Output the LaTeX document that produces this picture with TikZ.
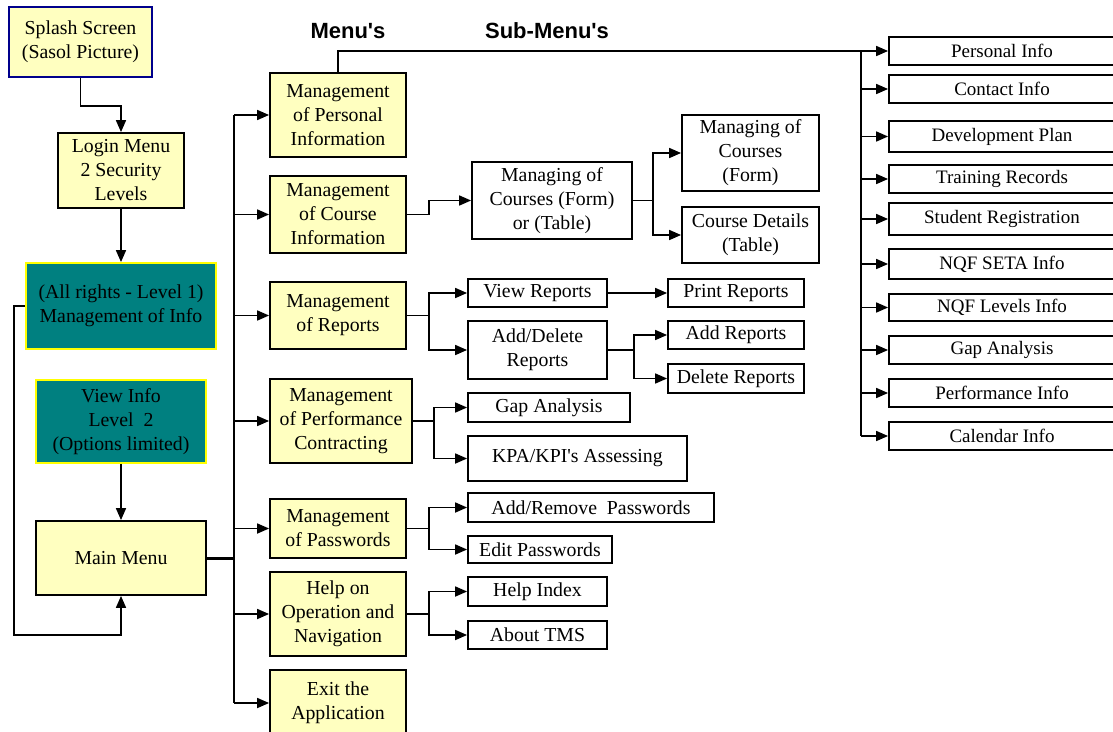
\documentclass[tikz,border=0pt]{standalone}
\usepackage{fontspec}
\setmainfont{Liberation Serif}
\newfontfamily\headfont{Liberation Sans}
\usetikzlibrary{arrows.meta}
\definecolor{cream}{RGB}{255,255,192}
\definecolor{tealfill}{RGB}{0,128,128}
\definecolor{navyline}{RGB}{0,0,140}
\definecolor{yline}{RGB}{255,255,0}
% box from (x1,y1) to (x2,y2), y grows downward
\newcommand\bx[6]{\node[#6, minimum width={#3-#2}, minimum height={#5-#4}] (#1) at ({(#2+#3)/2},{(#4+#5)/2})}
\newcommand\ap{\textquotesingle}
\tikzset{
  box/.style={draw, line width=1.8pt, inner sep=0pt, align=center,
    font=\fontsize{19.8}{24}\selectfont},
  ybox/.style={box, fill=cream},
  tbox/.style={box, fill=tealfill, draw=yline},
  wbox/.style={box, fill=white},
  rbox/.style={wbox, font=\fontsize{19}{22}\selectfont},
  conn/.style={line width=1.7pt, -{Triangle[length=12pt,width=10pt]}},
  plain/.style={line width=1.7pt},
  heavy/.style={line width=3pt},
  head/.style={font=\headfont\bfseries\fontsize{22}{26}\selectfont, inner sep=0pt}
}
\begin{document}
\begin{tikzpicture}[x=1pt,y=-1pt]
\useasboundingbox (0,0) rectangle (1113,731);
\clip (0,0) rectangle (1113,731);
\fill[white] (0,0) rectangle (1113,731);

% headings
\node[head] (hmenu) at (348,31) {Menu\ap s};
\node[head] (hsub) at (547,31) {Sub-Menu\ap s};

% left column
\bx{splash}{9}{152}{7}{77}{ybox, draw=navyline}{Splash Screen\\(Sasol Picture)};
\bx{login}{58}{184}{133}{208}{ybox}{Login Menu\\2 Security\\Levels};
\bx{allr}{26}{216}{263}{349}{tbox}{(All rights - Level 1)\\Management of Info};
\bx{viewi}{36}{206}{380}{463}{tbox}{View Info\\Level\ \ 2\\(Options limited)};
\bx{main}{36}{206}{521}{595}{ybox}{Main Menu};

% menus
\bx{mpers}{270}{406}{73}{157}{ybox}{Management\\of Personal\\Information};
\bx{mcourse}{270}{406}{176}{253}{ybox}{Management\\of Course\\Information};
\bx{mrep}{270}{406}{282}{349}{ybox}{Management\\of Reports};
\bx{mperf}{270}{412}{379}{463}{ybox}{Management\\of Performance\\Contracting};
\bx{mpass}{270}{406}{499}{558}{ybox}{Management\\of Passwords};
\bx{mhelp}{270}{406}{572}{656}{ybox}{Help on\\Operation and\\Navigation};
\bx{mexit}{270}{406}{670}{736}{ybox}{Exit the\\Application};

% sub-menus
\bx{mcf}{472}{632}{162}{239}{wbox}{Managing of\\Courses (Form)\\or (Table)};
\bx{mcform}{682}{819}{115}{191}{wbox}{Managing of\\Courses\\(Form)};
\bx{cdet}{682}{819}{207}{263}{wbox}{Course Details\\(Table)};
\bx{vrep}{468}{607}{279}{307}{wbox}{View Reports};
\bx{prep}{668}{804}{279}{307}{wbox}{Print Reports};
\bx{adrep}{468}{607}{321}{379}{wbox}{Add/Delete\\Reports};
\bx{addr}{668}{804}{321}{349}{wbox}{Add Reports};
\bx{delr}{668}{804}{364}{393}{wbox}{Delete Reports};
\bx{gapa}{468}{630}{393}{422}{wbox}{Gap Analysis};
\bx{kpa}{468}{687}{436}{481}{wbox}{KPA/KPI\ap s Assessing};
\bx{addpw}{468}{714}{493}{522}{wbox}{Add/Remove\ \ Passwords};
\bx{editpw}{468}{612}{536}{563}{wbox}{Edit Passwords};
\bx{hidx}{468}{607}{577}{606}{wbox}{Help Index};
\bx{about}{468}{607}{621}{649}{wbox}{About TMS};

% personal information items
\bx{pinfo}{889}{1115}{37}{65}{rbox}{Personal Info};
\bx{cinfo}{889}{1115}{75}{103}{rbox}{Contact Info};
\bx{dplan}{889}{1115}{121}{152}{rbox}{Development Plan};
\bx{trec}{889}{1115}{165}{193}{rbox}{Training Records};
\bx{sreg}{889}{1115}{203}{235}{rbox}{Student Registration};
\bx{nseta}{889}{1115}{249}{279}{rbox}{NQF SETA Info};
\bx{nlev}{889}{1115}{294}{321}{rbox}{NQF Levels Info};
\bx{rgap}{889}{1115}{336}{364}{rbox}{Gap Analysis};
\bx{perfi}{889}{1115}{379}{407}{rbox}{Performance Info};
\bx{cal}{889}{1115}{422}{450}{rbox}{Calendar Info};

% left column connectors
\draw[conn] (splash.south) -- ++(0,28) -| (login.north);
\draw[conn] (login.south) -- (allr.north);
\coordinate (loopc) at (14,635);
\draw[conn] (allr.west) -| (loopc) -| (main.south);
\draw[conn] (viewi.south) -- (main.north);

% main menu bus
\coordinate (bus) at (234,558);
\draw[heavy] (main.east) -- (bus);
\draw[plain] (bus |- mpers.west) -- (bus |- mexit.west);
\foreach \m in {mpers,mcourse,mrep,mperf,mpass,mhelp,mexit}
  \draw[conn] (bus |- \m.west) -- (\m.west);

% course information
\draw[conn] (mcourse.east) -- ++(22,0) |- (mcf.west);
\draw[plain] (mcf.east) -- ++(20,0) coordinate (jc);
\draw[conn] (jc) |- (mcform.west);
\draw[conn] (jc) |- (cdet.west);

% reports
\draw[plain] (mrep.east) -- ++(22,0) coordinate (jr);
\draw[conn] (jr) |- (vrep.west);
\draw[conn] (jr) |- (adrep.west);
\draw[conn] (vrep.east) -- (prep.west);
\draw[plain] (adrep.east) -- ++(26,0) coordinate (ja);
\draw[conn] (ja) |- (addr.west);
\draw[conn] (ja) |- (delr.west);

% performance contracting
\draw[plain] (mperf.east) -- ++(21,0) coordinate (jp);
\draw[conn] (jp) |- (gapa.west);
\draw[conn] (jp) |- (kpa.west);

% passwords
\draw[plain] (mpass.east) -- ++(22,0) coordinate (jw);
\draw[conn] (jw) |- (addpw.west);
\draw[conn] (jw) |- (editpw.west);

% help
\draw[plain] (mhelp.east) -- ++(22,0) coordinate (jh);
\draw[conn] (jh) |- (hidx.west);
\draw[conn] (jh) |- (about.west);

% personal information
\coordinate (rbus) at (861,51);
\draw[conn] (mpers.north) |- (pinfo.west);
\draw[plain] (rbus |- pinfo.west) -- (rbus |- cal.west);
\foreach \r in {cinfo,dplan,trec,sreg,nseta,nlev,rgap,perfi,cal}
  \draw[conn] (rbus |- \r.west) -- (\r.west);
\end{tikzpicture}
\end{document}
